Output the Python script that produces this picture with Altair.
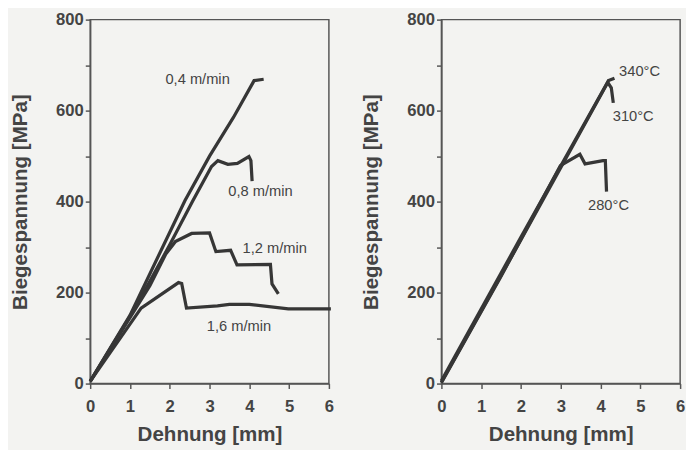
import altair as alt
import pandas as pd

# ---------------- data: left panel (feed rate) ----------------
v04_x = [0, 1.0, 2.38, 3.0, 3.6, 4.12, 4.36]
v04_y = [5, 150, 402, 500, 585, 666, 669]

v08_x = [0, 1.0, 1.5, 2.0, 2.58, 3.05, 3.21, 3.46, 3.70, 3.99, 4.04, 4.07]
v08_y = [5, 148, 225, 305, 402, 477, 490, 482, 484, 499, 490, 445]

v12_x = [0, 1.0, 1.5, 1.9, 2.14, 2.55, 3.0, 3.16, 3.53, 3.69, 4.53, 4.57, 4.73]
v12_y = [5, 145, 215, 285, 312, 330, 331, 290, 293, 261, 262, 219, 197]

v16_x = [0, 1.28, 2.22, 2.3, 2.42, 3.2, 3.5, 4.0, 4.98, 6.05]
v16_y = [5, 166, 222, 220, 166, 171, 174, 174, 164, 164]

left_names = ["0,4 m/min", "0,8 m/min", "1,2 m/min", "1,6 m/min"]
left_label_x = [2.70, 4.28, 4.64, 3.74]
left_label_y = [669, 424, 298, 126]

# ---------------- data: right panel (temperature) ----------------
t340_x = [0, 2.0, 4.2, 4.35]
t340_y = [6, 322, 666, 671]

t310_x = [0, 2.0, 4.18, 4.27, 4.32]
t310_y = [3, 316, 662, 650, 617]

t280_x = [0, 1.5, 2.99, 3.48, 3.61, 4.06, 4.12, 4.15]
t280_y = [2, 236, 479, 504, 483, 490, 490, 422]

right_names = ["340°C", "310°C", "280°C"]
right_label_x = [4.98, 4.82, 4.20]
right_label_y = [686, 588, 393]

x_ticks = [0, 0.5, 1, 1.5, 2, 2.5, 3, 3.5, 4, 4.5, 5, 5.5, 6]
y_ticks = [0, 100, 200, 300, 400, 500, 600, 700, 800]

LINE = "#363636"
TEXT = "#444444"


def to_frame(series):
    rows = []
    for name, xs, ys in series:
        for i, (x, y) in enumerate(zip(xs, ys)):
            rows.append({"series": name, "i": i, "x": x, "y": y})
    return pd.DataFrame(rows)


def panel(series, names, lx, ly):
    df = to_frame(series)
    labels = pd.DataFrame({"label": names, "x": lx, "y": ly})
    xs = alt.Scale(domain=[0, 6], nice=False, zero=False)
    ys = alt.Scale(domain=[0, 800], nice=False)
    xa = alt.Axis(title="Dehnung [mm]", values=x_ticks,
                  labelExpr="datum.value % 1 == 0 ? datum.label : ''")
    ya = alt.Axis(title="Biegespannung [MPa]", values=y_ticks,
                  labelExpr="datum.value % 200 == 0 ? datum.label : ''")
    lines = alt.Chart(df).mark_line(color=LINE, strokeWidth=3.3, clip=False,
                                    strokeJoin="miter").encode(
        x=alt.X("x:Q", scale=xs, axis=xa),
        y=alt.Y("y:Q", scale=ys, axis=ya),
        detail="series:N",
        order="i:Q",
    )
    text = alt.Chart(labels).mark_text(font="Liberation Sans", fontSize=15,
                                       color=TEXT, align="center",
                                       baseline="middle").encode(
        x=alt.X("x:Q", scale=xs), y=alt.Y("y:Q", scale=ys), text="label:N")
    return alt.layer(lines, text).properties(width=244, height=372)


left = panel([("0,4", v04_x, v04_y), ("0,8", v08_x, v08_y),
              ("1,2", v12_x, v12_y), ("1,6", v16_x, v16_y)],
             left_names, left_label_x, left_label_y)
right = panel([("340", t340_x, t340_y), ("310", t310_x, t310_y),
               ("280", t280_x, t280_y)],
              right_names, right_label_x, right_label_y)

chart = alt.hconcat(left, right, spacing=21).properties(
    background="#f3f3f1",
    padding={"left": 0, "top": -3, "right": 0, "bottom": 0},
).configure_view(
    stroke="#555555", strokeWidth=1.5
).configure_axis(
    grid=False,
    domainColor="#555555", domainWidth=1.5,
    tickColor="#555555", tickWidth=1.5, tickSize=5,
    labelFont="Liberation Sans", labelFontWeight="bold", labelFontSize=17,
    labelColor=TEXT, labelPadding=2,
    titleFont="Liberation Sans", titleFontWeight="bold", titleFontSize=21,
    titleColor=TEXT,
).configure_axisX(labelPadding=11, titlePadding=9, labelFlush=False
).configure_axisY(titlePadding=26)

chart.save("out.html", embed_options={"renderer": "svg", "actions": False})
